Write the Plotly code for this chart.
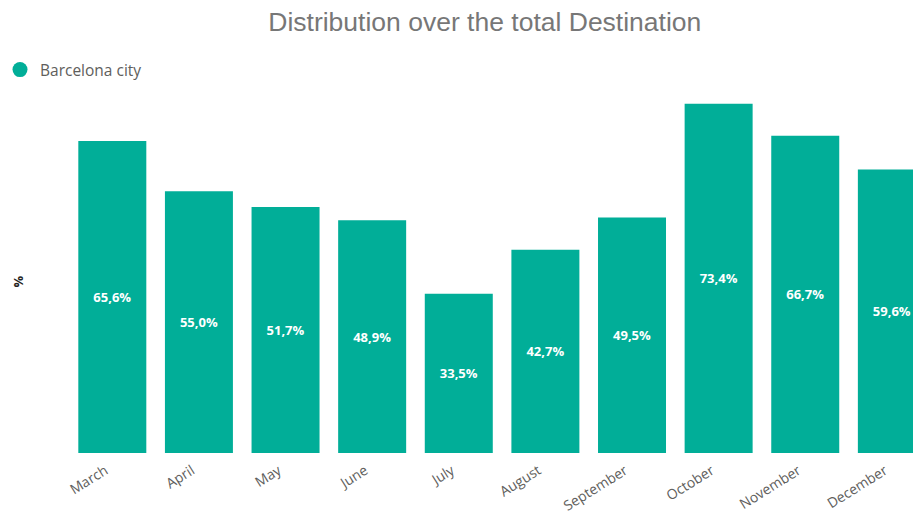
import plotly.graph_objects as go

months = ["March", "April", "May", "June", "July", "August",
          "September", "October", "November", "December"]
share_pct = [65.6, 55.0, 51.7, 48.9, 33.5, 42.7, 49.5, 73.4, 66.7, 59.6]
series_name = "Barcelona city"

labels = [f"{v:.1f}".replace(".", ",") + "%" for v in share_pct]
teal = "#01AE98"

fig = go.Figure()
fig.add_trace(go.Bar(
    x=months, y=share_pct, text=labels,
    textposition="inside", insidetextanchor="middle",
    textfont=dict(family="Open Sans", size=13, color="white", weight="bold"),
    marker=dict(color=teal, line=dict(width=0)),
    showlegend=False,
))
fig.add_trace(go.Scatter(
    x=[None], y=[None], mode="markers", name=series_name,
    marker=dict(symbol="circle", size=15, color=teal),
    showlegend=True,
))

fig.update_layout(
    width=913, height=515,
    margin=dict(l=69, r=0, t=100, b=62),
    paper_bgcolor="white", plot_bgcolor="white",
    bargap=0.215,
    uniformtext=dict(mode="show", minsize=8),
    title=dict(text="Distribution over the total Destination",
               x=0.531, xref="container", xanchor="center",
               y=1 - 22 / 515, yref="container", yanchor="middle",
               font=dict(family="Liberation Sans, Arial", size=26.5, color="#777777")),
    legend=dict(orientation="h", xref="container", x=-0.007, xanchor="left",
                yref="container", y=1 - 70 / 515, yanchor="middle",
                font=dict(family="Open Sans", size=15.5, color="#605E5C"),
                itemwidth=30, bgcolor="rgba(0,0,0,0)"),
    xaxis=dict(range=[-0.5, 9.244], tickangle=-32, showgrid=False,
               showline=False, ticks="", automargin=False,
               ticklabelstandoff=6, ticklabelshift=-7,
               tickfont=dict(family="Open Sans", size=14, color="#605E5C")),
    yaxis=dict(range=[0, 74.2], showticklabels=False, showgrid=False,
               zeroline=False, showline=False, ticks="", automargin=False),
    annotations=[dict(text="%", textangle=-90, xref="paper", yref="paper",
                      x=-0.060, y=0.487, xanchor="center", yanchor="middle",
                      showarrow=False,
                      font=dict(family="Open Sans", size=13, color="#252423", weight="bold"))],
)

fig.write_html("out.html", config={"displayModeBar": False},
               post_script="document.body.style.margin='0';document.body.style.overflow='hidden';")
